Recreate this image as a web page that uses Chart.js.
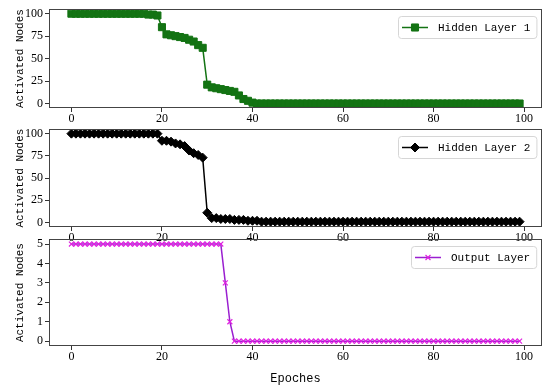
<!DOCTYPE html>
<html>
<head>
<meta charset="utf-8">
<script src="https://cdn.jsdelivr.net/npm/chart.js@4.4.1/dist/chart.umd.min.js"></script>
<style>
  html, body { margin:0; padding:0; background:#fff; }
  #wrap { position:relative; width:550px; height:386px; overflow:hidden; }
  canvas { position:absolute; left:0; }
</style>
</head>
<body>
<div id="wrap">
  <canvas id="c1" width="550" height="130" style="top:0px"></canvas>
  <canvas id="c2" width="550" height="130" style="top:120px"></canvas>
  <canvas id="c3" width="550" height="156" style="top:230px"></canvas>
</div>
<script>
/* data */
const epochs = [
  0,1,2,3,4,5,6,7,8,9,10,11,12,13,14,15,16,17,18,19,
  20,21,22,23,24,25,26,27,28,29,30,31,32,33,34,35,36,37,38,39,
  40,41,42,43,44,45,46,47,48,49,50,51,52,53,54,55,56,57,58,59,
  60,61,62,63,64,65,66,67,68,69,70,71,72,73,74,75,76,77,78,79,
  80,81,82,83,84,85,86,87,88,89,90,91,92,93,94,95,96,97,98,99
];
const hidden1 = [
  100,100,100,100,100,100,100,100,100,100,100,100,100,100,100,100,100,99,99,98,
  85,77,76,75,74,73,71,69,65,62,21,18,17,16,15,14,13,9,5,3,
  1,0,0,0,0,0,0,0,0,0,0,0,0,0,0,0,0,0,0,0,
  0,0,0,0,0,0,0,0,0,0,0,0,0,0,0,0,0,0,0,0,
  0,0,0,0,0,0,0,0,0,0,0,0,0,0,0,0,0,0,0,0
];
const hidden2 = [
  100,100,100,100,100,100,100,100,100,100,100,100,100,100,100,100,100,100,100,100,
  92,92,91,89,88,86,81,78,76,73,11,5,5,4,4,4,3,3,3,2,
  2,2,1,1,1,1,1,1,1,1,1,1,1,1,1,1,1,1,1,1,
  1,1,1,1,1,1,1,1,1,1,1,1,1,1,1,1,1,1,1,1,
  1,1,1,1,1,1,1,1,1,1,1,1,1,1,1,1,1,1,1,1
];
const outputL = [
  5,5,5,5,5,5,5,5,5,5,5,5,5,5,5,5,5,5,5,5,
  5,5,5,5,5,5,5,5,5,5,5,5,5,5,3,1,0,0,0,0,
  0,0,0,0,0,0,0,0,0,0,0,0,0,0,0,0,0,0,0,0,
  0,0,0,0,0,0,0,0,0,0,0,0,0,0,0,0,0,0,0,0,
  0,0,0,0,0,0,0,0,0,0,0,0,0,0,0,0,0,0,0,0
];
const xTicks = [0,20,40,60,80,100];
const yTicksHidden = [0,25,50,75,100];
const yTicksOut = [0,1,2,3,4,5];

const TICK_FONT = { family:"'Liberation Serif', 'Times New Roman', serif", size:12 };
const LABEL_FONT = "'Liberation Mono', 'DejaVu Sans Mono', monospace";

/* frame round the plot area */
const framePlugin = {
  id:'frame',
  afterDraw(chart){
    const a = chart.chartArea, ctx = chart.ctx;
    ctx.save();
    ctx.strokeStyle = '#444';
    ctx.lineWidth = 1;
    ctx.strokeRect(Math.round(a.left)+0.5, Math.round(a.top)+0.5,
                   Math.round(a.right-a.left)-1, Math.round(a.bottom-a.top)-1);
    ctx.restore();
  }
};

/* legend in matplotlib style: line with marker through it */
const lineLegend = {
  id:'lineLegend',
  afterDraw(chart){
    const ds = chart.data.datasets[0];
    const a = chart.chartArea, ctx = chart.ctx;
    ctx.save();
    ctx.font = "11px " + LABEL_FONT;
    const tw = ctx.measureText(ds.label).width;
    const h = 22, w = 40 + tw + 6;
    const x0 = Math.round(a.right - 6 - w), y0 = Math.round(a.top + 7);
    ctx.fillStyle = 'rgba(255,255,255,0.9)';
    ctx.strokeStyle = '#d6d6d6';
    ctx.lineWidth = 1;
    ctx.beginPath();
    ctx.roundRect(x0+0.5, y0+0.5, w, h, 3);
    ctx.fill(); ctx.stroke();
    const cy = y0 + h/2 + 0.5;
    ctx.strokeStyle = ds.borderColor;
    ctx.lineWidth = ds.borderWidth;
    ctx.beginPath();
    ctx.moveTo(x0+4, cy); ctx.lineTo(x0+30, cy); ctx.stroke();
    ctx.fillStyle = ds.pointBackgroundColor;
    ctx.strokeStyle = ds.pointBorderColor;
    ctx.lineWidth = ds.pointBorderWidth;
    Chart.helpers.drawPoint(ctx, { pointStyle: ds.pointStyle, radius: ds.pointRadius, rotation: 0, borderWidth: ds.pointBorderWidth }, x0+17, cy);
    ctx.fillStyle = '#000';
    ctx.textBaseline = 'middle';
    ctx.fillText(ds.label, x0+40, cy+1);
    ctx.restore();
  }
};

function makeChart(id, label, values, style, yMin, yMax, yTicks, xHeight, padTop, withTitle){
  const pts = epochs.map((e,i) => ({ x:e, y:values[i] }));
  return new Chart(document.getElementById(id), {
    type:'line',
    data:{ datasets:[Object.assign({ label, data:pts, tension:0 }, style)] },
    options:{
      responsive:false,
      animation:false,
      layout:{ padding:{ top:padTop, right:8, left:13, bottom:0 } },
      plugins:{ legend:{display:false}, tooltip:{enabled:false} },
      scales:{
        x:{
          type:'linear', min:-4.95, max:103.95,
          afterBuildTicks: s => { s.ticks = xTicks.map(v => ({value:v})); },
          afterFit: s => { s.height = xHeight; },
          grid:{ drawOnChartArea:false, tickLength:4, color:'#333' },
          border:{ display:false },
          ticks:{ font:TICK_FONT, color:'#000', padding:0, maxRotation:0 },
          title:{ display:withTitle, text:'Epoches', color:'#000',
                  font:{ family:LABEL_FONT, size:12 }, padding:{top:2, bottom:0} }
        },
        y:{
          min:yMin, max:yMax,
          afterBuildTicks: s => { s.ticks = yTicks.map(v => ({value:v})); },
          afterFit: s => { s.width = 36; },
          grid:{ drawOnChartArea:false, tickLength:4, color:'#333' },
          border:{ display:false },
          ticks:{ font:TICK_FONT, color:'#000', padding:2 },
          title:{ display:true, text:'Activated Nodes', color:'#000',
                  font:{ family:LABEL_FONT, size:11 }, padding:{top:0, bottom:2} }
        }
      }
    },
    plugins:[framePlugin, lineLegend]
  });
}

makeChart('c1', 'Hidden Layer 1', hidden1, {
  borderColor:'#137313', borderWidth:1.5,
  pointStyle:'rect', pointRadius:5, pointBackgroundColor:'#137313',
  pointBorderColor:'#137313', pointBorderWidth:1
}, -5, 105, yTicksHidden, 22, 8, false);

makeChart('c2', 'Hidden Layer 2', hidden2, {
  borderColor:'#000', borderWidth:1.5,
  pointStyle:'rectRot', pointRadius:4.5, pointBackgroundColor:'#000',
  pointBorderColor:'#000', pointBorderWidth:1
}, -5, 105, yTicksHidden, 23, 7, false);

makeChart('c3', 'Output Layer', outputL, {
  borderColor:'#9a1fd0', borderWidth:1.5,
  pointStyle:'crossRot', pointRadius:3.5, pointBackgroundColor:'#e020e0',
  pointBorderColor:'#e020e0', pointBorderWidth:1.2
}, -0.25, 5.25, yTicksOut, 40, 8, true);
</script>
</body>
</html>
